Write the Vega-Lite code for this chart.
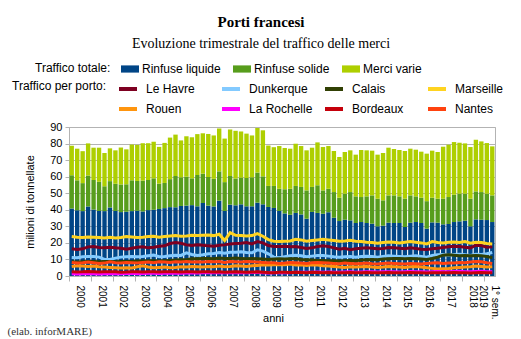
{
"$schema": "https://vega.github.io/schema/vega-lite/v6.json",
"width": 426, "height": 149,
"autosize": {"type": "none"},
"padding": {"left": 69, "top": 127, "right": 26, "bottom": 63},
"background": "white",
"title": {"text": "Porti francesi", "subtitle": "Evoluzione trimestrale del traffico delle merci", "font": "Liberation Serif", "fontSize": 15, "fontWeight": "bold", "subtitleFont": "Liberation Serif", "subtitleFontSize": 14, "subtitlePadding": 7, "anchor": "middle", "frame": "group", "dx": -21, "offset": 9, "color": "#000", "subtitleColor": "#000"},
"datasets": {
"ord": [{"tipo": "Rinfuse liquide", "k": 1}, {"tipo": "Rinfuse solide", "k": 2}, {"tipo": "Merci varie", "k": 3}],
"q": [
{"t":"2000-T1","Rinfuse liquide":40.7,"Rinfuse solide":20.1,"Merci varie":17.9,"Le Havre":16.4,"Dunkerque":11.2,"Calais":8.6,"Marseille":23.8,"Rouen":5.8,"La Rochelle":1.3,"Bordeaux":2.6,"Nantes":8.2},
{"t":"2000-T2","Rinfuse liquide":39.7,"Rinfuse solide":18.1,"Merci varie":19.1,"Le Havre":16.0,"Dunkerque":11.0,"Calais":8.4,"Marseille":23.4,"Rouen":6.2,"La Rochelle":1.2,"Bordeaux":2.4,"Nantes":7.8},
{"t":"2000-T3","Rinfuse liquide":39.2,"Rinfuse solide":16.9,"Merci varie":19.3,"Le Havre":16.4,"Dunkerque":11.6,"Calais":8.6,"Marseille":23.2,"Rouen":6.0,"La Rochelle":1.4,"Bordeaux":2.5,"Nantes":8.0},
{"t":"2000-T4","Rinfuse liquide":42.0,"Rinfuse solide":18.7,"Merci varie":19.4,"Le Havre":17.6,"Dunkerque":11.8,"Calais":8.8,"Marseille":23.6,"Rouen":5.8,"La Rochelle":1.5,"Bordeaux":2.7,"Nantes":8.4},
{"t":"2001-T1","Rinfuse liquide":40.1,"Rinfuse solide":17.9,"Merci varie":19.5,"Le Havre":17.8,"Dunkerque":11.8,"Calais":8.8,"Marseille":23.4,"Rouen":6.0,"La Rochelle":1.3,"Bordeaux":2.6,"Nantes":8.0},
{"t":"2001-T2","Rinfuse liquide":39.3,"Rinfuse solide":17.6,"Merci varie":20.6,"Le Havre":17.2,"Dunkerque":11.4,"Calais":8.6,"Marseille":23.2,"Rouen":5.6,"La Rochelle":1.2,"Bordeaux":2.4,"Nantes":7.6},
{"t":"2001-T3","Rinfuse liquide":39.2,"Rinfuse solide":15.0,"Merci varie":20.1,"Le Havre":17.0,"Dunkerque":10.0,"Calais":8.8,"Marseille":23.0,"Rouen":5.4,"La Rochelle":1.4,"Bordeaux":2.5,"Nantes":7.8},
{"t":"2001-T4","Rinfuse liquide":41.4,"Rinfuse solide":15.9,"Merci varie":19.8,"Le Havre":17.4,"Dunkerque":10.0,"Calais":8.8,"Marseille":23.4,"Rouen":5.2,"La Rochelle":1.5,"Bordeaux":2.6,"Nantes":8.6},
{"t":"2002-T1","Rinfuse liquide":39.3,"Rinfuse solide":16.4,"Merci varie":20.2,"Le Havre":17.0,"Dunkerque":10.8,"Calais":8.6,"Marseille":23.0,"Rouen":5.0,"La Rochelle":1.4,"Bordeaux":2.5,"Nantes":8.0},
{"t":"2002-T2","Rinfuse liquide":38.6,"Rinfuse solide":16.7,"Merci varie":22.3,"Le Havre":16.8,"Dunkerque":11.4,"Calais":8.8,"Marseille":23.2,"Rouen":4.8,"La Rochelle":1.3,"Bordeaux":2.3,"Nantes":7.8},
{"t":"2002-T3","Rinfuse liquide":38.8,"Rinfuse solide":16.6,"Merci varie":21.1,"Le Havre":16.2,"Dunkerque":11.6,"Calais":8.8,"Marseille":23.8,"Rouen":5.0,"La Rochelle":1.5,"Bordeaux":2.4,"Nantes":8.2},
{"t":"2002-T4","Rinfuse liquide":39.2,"Rinfuse solide":18.6,"Merci varie":21.6,"Le Havre":16.8,"Dunkerque":11.8,"Calais":8.8,"Marseille":23.6,"Rouen":4.8,"La Rochelle":1.6,"Bordeaux":2.6,"Nantes":8.0},
{"t":"2003-T1","Rinfuse liquide":39.4,"Rinfuse solide":18.0,"Merci varie":21.8,"Le Havre":17.4,"Dunkerque":11.6,"Calais":9.0,"Marseille":23.2,"Rouen":5.6,"La Rochelle":1.4,"Bordeaux":2.5,"Nantes":7.8},
{"t":"2003-T2","Rinfuse liquide":39.0,"Rinfuse solide":18.6,"Merci varie":22.6,"Le Havre":17.6,"Dunkerque":11.8,"Calais":9.0,"Marseille":23.4,"Rouen":6.2,"La Rochelle":1.5,"Bordeaux":2.4,"Nantes":8.2},
{"t":"2003-T3","Rinfuse liquide":39.8,"Rinfuse solide":18.2,"Merci varie":22.2,"Le Havre":17.0,"Dunkerque":12.2,"Calais":9.2,"Marseille":23.8,"Rouen":5.4,"La Rochelle":1.6,"Bordeaux":2.5,"Nantes":8.4},
{"t":"2003-T4","Rinfuse liquide":40.0,"Rinfuse solide":19.0,"Merci varie":22.1,"Le Havre":17.4,"Dunkerque":12.6,"Calais":9.2,"Marseille":24.0,"Rouen":5.0,"La Rochelle":1.7,"Bordeaux":2.6,"Nantes":8.0},
{"t":"2004-T1","Rinfuse liquide":40.5,"Rinfuse solide":15.3,"Merci varie":22.2,"Le Havre":18.0,"Dunkerque":11.6,"Calais":9.0,"Marseille":23.4,"Rouen":5.2,"La Rochelle":1.5,"Bordeaux":2.4,"Nantes":8.6},
{"t":"2004-T2","Rinfuse liquide":41.0,"Rinfuse solide":15.2,"Merci varie":24.2,"Le Havre":18.2,"Dunkerque":11.8,"Calais":9.2,"Marseille":23.8,"Rouen":5.4,"La Rochelle":1.6,"Bordeaux":2.5,"Nantes":8.4},
{"t":"2004-T3","Rinfuse liquide":41.6,"Rinfuse solide":16.9,"Merci varie":25.1,"Le Havre":19.6,"Dunkerque":12.2,"Calais":9.4,"Marseille":24.2,"Rouen":5.0,"La Rochelle":1.7,"Bordeaux":2.6,"Nantes":8.2},
{"t":"2004-T4","Rinfuse liquide":41.5,"Rinfuse solide":18.9,"Merci varie":25.0,"Le Havre":20.2,"Dunkerque":12.6,"Calais":9.6,"Marseille":24.4,"Rouen":5.2,"La Rochelle":1.8,"Bordeaux":2.5,"Nantes":8.6},
{"t":"2005-T1","Rinfuse liquide":42.3,"Rinfuse solide":17.3,"Merci varie":22.3,"Le Havre":19.8,"Dunkerque":12.4,"Calais":9.8,"Marseille":24.0,"Rouen":5.6,"La Rochelle":1.7,"Bordeaux":2.4,"Nantes":8.4},
{"t":"2005-T2","Rinfuse liquide":42.5,"Rinfuse solide":17.5,"Merci varie":24.4,"Le Havre":18.8,"Dunkerque":14.0,"Calais":9.8,"Marseille":24.2,"Rouen":5.4,"La Rochelle":1.8,"Bordeaux":2.6,"Nantes":8.8},
{"t":"2005-T3","Rinfuse liquide":42.8,"Rinfuse solide":16.2,"Merci varie":24.8,"Le Havre":18.4,"Dunkerque":13.0,"Calais":10.4,"Marseille":24.6,"Rouen":5.8,"La Rochelle":1.9,"Bordeaux":2.5,"Nantes":8.4},
{"t":"2005-T4","Rinfuse liquide":42.1,"Rinfuse solide":18.9,"Merci varie":24.7,"Le Havre":18.8,"Dunkerque":12.4,"Calais":10.4,"Marseille":24.4,"Rouen":5.6,"La Rochelle":1.8,"Bordeaux":2.4,"Nantes":8.6},
{"t":"2006-T1","Rinfuse liquide":44.1,"Rinfuse solide":17.7,"Merci varie":24.4,"Le Havre":18.6,"Dunkerque":12.8,"Calais":10.6,"Marseille":24.6,"Rouen":5.4,"La Rochelle":1.9,"Bordeaux":2.5,"Nantes":8.4},
{"t":"2006-T2","Rinfuse liquide":42.5,"Rinfuse solide":17.3,"Merci varie":26.0,"Le Havre":18.2,"Dunkerque":13.4,"Calais":10.6,"Marseille":24.8,"Rouen":5.8,"La Rochelle":2.0,"Bordeaux":2.6,"Nantes":8.8},
{"t":"2006-T3","Rinfuse liquide":42.0,"Rinfuse solide":16.7,"Merci varie":26.2,"Le Havre":18.0,"Dunkerque":13.6,"Calais":10.4,"Marseille":24.4,"Rouen":5.6,"La Rochelle":1.9,"Bordeaux":2.4,"Nantes":8.6},
{"t":"2006-T4","Rinfuse liquide":45.5,"Rinfuse solide":17.7,"Merci varie":25.9,"Le Havre":18.6,"Dunkerque":14.2,"Calais":10.8,"Marseille":25.2,"Rouen":6.0,"La Rochelle":2.0,"Bordeaux":2.5,"Nantes":8.8},
{"t":"2007-T1","Rinfuse liquide":39.3,"Rinfuse solide":17.4,"Merci varie":26.3,"Le Havre":18.8,"Dunkerque":13.8,"Calais":10.6,"Marseille":21.4,"Rouen":5.6,"La Rochelle":1.9,"Bordeaux":2.3,"Nantes":8.2},
{"t":"2007-T2","Rinfuse liquide":43.1,"Rinfuse solide":17.3,"Merci varie":28.1,"Le Havre":19.4,"Dunkerque":14.4,"Calais":10.6,"Marseille":26.2,"Rouen":5.8,"La Rochelle":2.0,"Bordeaux":2.4,"Nantes":8.8},
{"t":"2007-T3","Rinfuse liquide":42.7,"Rinfuse solide":16.2,"Merci varie":28.8,"Le Havre":19.6,"Dunkerque":14.4,"Calais":10.8,"Marseille":24.6,"Rouen":6.2,"La Rochelle":2.1,"Bordeaux":2.5,"Nantes":8.6},
{"t":"2007-T4","Rinfuse liquide":43.3,"Rinfuse solide":16.1,"Merci varie":27.9,"Le Havre":19.8,"Dunkerque":14.6,"Calais":10.6,"Marseille":24.4,"Rouen":6.0,"La Rochelle":2.0,"Bordeaux":2.4,"Nantes":8.4},
{"t":"2008-T1","Rinfuse liquide":42.1,"Rinfuse solide":17.1,"Merci varie":26.8,"Le Havre":20.2,"Dunkerque":14.2,"Calais":10.4,"Marseille":24.2,"Rouen":5.8,"La Rochelle":2.0,"Bordeaux":2.3,"Nantes":8.8},
{"t":"2008-T2","Rinfuse liquide":42.1,"Rinfuse solide":17.5,"Merci varie":25.3,"Le Havre":19.4,"Dunkerque":14.0,"Calais":10.6,"Marseille":24.4,"Rouen":6.2,"La Rochelle":2.1,"Bordeaux":2.4,"Nantes":8.6},
{"t":"2008-T3","Rinfuse liquide":44.3,"Rinfuse solide":18.2,"Merci varie":26.9,"Le Havre":20.8,"Dunkerque":15.8,"Calais":10.4,"Marseille":25.6,"Rouen":6.4,"La Rochelle":2.2,"Bordeaux":2.5,"Nantes":8.4},
{"t":"2008-T4","Rinfuse liquide":43.3,"Rinfuse solide":16.9,"Merci varie":27.8,"Le Havre":20.0,"Dunkerque":15.0,"Calais":10.2,"Marseille":24.0,"Rouen":6.8,"La Rochelle":2.0,"Bordeaux":2.3,"Nantes":8.2},
{"t":"2009-T1","Rinfuse liquide":41.7,"Rinfuse solide":12.7,"Merci varie":24.4,"Le Havre":18.4,"Dunkerque":13.4,"Calais":10.0,"Marseille":22.0,"Rouen":6.6,"La Rochelle":1.8,"Bordeaux":2.1,"Nantes":8.0},
{"t":"2009-T2","Rinfuse liquide":41.1,"Rinfuse solide":13.3,"Merci varie":23.4,"Le Havre":17.8,"Dunkerque":11.4,"Calais":10.2,"Marseille":21.0,"Rouen":6.8,"La Rochelle":1.9,"Bordeaux":2.0,"Nantes":8.0},
{"t":"2009-T3","Rinfuse liquide":39.3,"Rinfuse solide":13.4,"Merci varie":25.8,"Le Havre":17.8,"Dunkerque":11.0,"Calais":10.4,"Marseille":20.8,"Rouen":7.0,"La Rochelle":2.0,"Bordeaux":2.2,"Nantes":7.6},
{"t":"2009-T4","Rinfuse liquide":37.8,"Rinfuse solide":14.6,"Merci varie":24.9,"Le Havre":18.0,"Dunkerque":11.6,"Calais":10.2,"Marseille":21.0,"Rouen":6.8,"La Rochelle":2.1,"Bordeaux":2.3,"Nantes":7.8},
{"t":"2010-T1","Rinfuse liquide":37.0,"Rinfuse solide":15.7,"Merci varie":24.2,"Le Havre":17.6,"Dunkerque":12.2,"Calais":10.4,"Marseille":21.2,"Rouen":7.2,"La Rochelle":2.0,"Bordeaux":2.1,"Nantes":8.2},
{"t":"2010-T2","Rinfuse liquide":38.1,"Rinfuse solide":16.3,"Merci varie":25.5,"Le Havre":17.8,"Dunkerque":12.6,"Calais":10.4,"Marseille":22.2,"Rouen":6.6,"La Rochelle":2.2,"Bordeaux":2.2,"Nantes":8.0},
{"t":"2010-T3","Rinfuse liquide":37.2,"Rinfuse solide":16.6,"Merci varie":24.7,"Le Havre":17.2,"Dunkerque":12.2,"Calais":10.0,"Marseille":21.8,"Rouen":6.8,"La Rochelle":2.3,"Bordeaux":2.1,"Nantes":7.8},
{"t":"2010-T4","Rinfuse liquide":34.6,"Rinfuse solide":17.1,"Merci varie":24.2,"Le Havre":16.6,"Dunkerque":11.6,"Calais":9.8,"Marseille":21.0,"Rouen":6.4,"La Rochelle":2.2,"Bordeaux":2.0,"Nantes":7.6},
{"t":"2011-T1","Rinfuse liquide":38.7,"Rinfuse solide":15.1,"Merci varie":23.7,"Le Havre":17.0,"Dunkerque":12.0,"Calais":9.6,"Marseille":21.4,"Rouen":6.8,"La Rochelle":2.3,"Bordeaux":2.2,"Nantes":8.0},
{"t":"2011-T2","Rinfuse liquide":38.1,"Rinfuse solide":16.7,"Merci varie":25.9,"Le Havre":17.8,"Dunkerque":12.4,"Calais":9.4,"Marseille":21.8,"Rouen":6.6,"La Rochelle":2.4,"Bordeaux":2.1,"Nantes":8.2},
{"t":"2011-T3","Rinfuse liquide":37.6,"Rinfuse solide":14.1,"Merci varie":26.2,"Le Havre":18.2,"Dunkerque":12.4,"Calais":9.4,"Marseille":22.2,"Rouen":6.2,"La Rochelle":2.3,"Bordeaux":2.0,"Nantes":8.0},
{"t":"2011-T4","Rinfuse liquide":38.5,"Rinfuse solide":14.2,"Merci varie":25.8,"Le Havre":17.8,"Dunkerque":12.0,"Calais":9.2,"Marseille":21.8,"Rouen":6.0,"La Rochelle":2.4,"Bordeaux":2.1,"Nantes":7.8},
{"t":"2012-T1","Rinfuse liquide":35.2,"Rinfuse solide":15.5,"Merci varie":24.8,"Le Havre":17.0,"Dunkerque":11.6,"Calais":9.2,"Marseille":21.4,"Rouen":5.8,"La Rochelle":2.3,"Bordeaux":2.0,"Nantes":7.6},
{"t":"2012-T2","Rinfuse liquide":33.2,"Rinfuse solide":14.1,"Merci varie":24.6,"Le Havre":16.2,"Dunkerque":11.4,"Calais":9.0,"Marseille":21.0,"Rouen":5.4,"La Rochelle":2.2,"Bordeaux":1.9,"Nantes":7.4},
{"t":"2012-T3","Rinfuse liquide":34.0,"Rinfuse solide":15.7,"Merci varie":25.2,"Le Havre":16.8,"Dunkerque":11.6,"Calais":9.2,"Marseille":21.2,"Rouen":5.2,"La Rochelle":2.4,"Bordeaux":2.0,"Nantes":7.8},
{"t":"2012-T4","Rinfuse liquide":33.6,"Rinfuse solide":17.1,"Merci varie":25.2,"Le Havre":15.9,"Dunkerque":11.8,"Calais":9.4,"Marseille":21.6,"Rouen":5.6,"La Rochelle":2.5,"Bordeaux":2.1,"Nantes":7.6},
{"t":"2013-T1","Rinfuse liquide":32.0,"Rinfuse solide":16.1,"Merci varie":25.2,"Le Havre":16.4,"Dunkerque":11.4,"Calais":9.2,"Marseille":21.0,"Rouen":5.4,"La Rochelle":2.3,"Bordeaux":1.9,"Nantes":7.4},
{"t":"2013-T2","Rinfuse liquide":32.6,"Rinfuse solide":15.1,"Merci varie":28.4,"Le Havre":16.8,"Dunkerque":11.8,"Calais":9.6,"Marseille":20.8,"Rouen":5.6,"La Rochelle":2.4,"Bordeaux":2.0,"Nantes":7.6},
{"t":"2013-T3","Rinfuse liquide":32.0,"Rinfuse solide":16.1,"Merci varie":27.8,"Le Havre":17.0,"Dunkerque":12.0,"Calais":9.8,"Marseille":20.4,"Rouen":5.8,"La Rochelle":2.5,"Bordeaux":2.1,"Nantes":7.8},
{"t":"2013-T4","Rinfuse liquide":31.6,"Rinfuse solide":17.1,"Merci varie":27.0,"Le Havre":16.8,"Dunkerque":11.8,"Calais":10.0,"Marseille":20.2,"Rouen":5.4,"La Rochelle":2.6,"Bordeaux":2.0,"Nantes":7.4},
{"t":"2014-T1","Rinfuse liquide":30.0,"Rinfuse solide":16.7,"Merci varie":26.6,"Le Havre":16.4,"Dunkerque":11.4,"Calais":9.8,"Marseille":19.8,"Rouen":5.2,"La Rochelle":2.4,"Bordeaux":1.9,"Nantes":7.2},
{"t":"2014-T2","Rinfuse liquide":30.4,"Rinfuse solide":15.3,"Merci varie":28.6,"Le Havre":16.6,"Dunkerque":11.8,"Calais":10.2,"Marseille":20.2,"Rouen":5.4,"La Rochelle":2.5,"Bordeaux":2.0,"Nantes":7.6},
{"t":"2014-T3","Rinfuse liquide":32.2,"Rinfuse solide":16.5,"Merci varie":28.8,"Le Havre":17.2,"Dunkerque":12.2,"Calais":10.4,"Marseille":20.6,"Rouen":5.8,"La Rochelle":2.6,"Bordeaux":2.1,"Nantes":7.8},
{"t":"2014-T4","Rinfuse liquide":32.0,"Rinfuse solide":16.7,"Merci varie":28.0,"Le Havre":17.0,"Dunkerque":12.0,"Calais":10.6,"Marseille":20.4,"Rouen":5.6,"La Rochelle":2.5,"Bordeaux":2.0,"Nantes":7.6},
{"t":"2015-T1","Rinfuse liquide":32.0,"Rinfuse solide":16.1,"Merci varie":28.0,"Le Havre":16.8,"Dunkerque":11.8,"Calais":10.6,"Marseille":20.0,"Rouen":5.4,"La Rochelle":2.4,"Bordeaux":1.9,"Nantes":7.4},
{"t":"2015-T2","Rinfuse liquide":29.6,"Rinfuse solide":17.1,"Merci varie":28.8,"Le Havre":16.4,"Dunkerque":11.6,"Calais":10.4,"Marseille":20.4,"Rouen":5.2,"La Rochelle":2.6,"Bordeaux":2.0,"Nantes":7.2},
{"t":"2015-T3","Rinfuse liquide":32.2,"Rinfuse solide":16.5,"Merci varie":28.2,"Le Havre":17.0,"Dunkerque":12.0,"Calais":10.6,"Marseille":20.8,"Rouen":5.6,"La Rochelle":2.7,"Bordeaux":2.1,"Nantes":7.6},
{"t":"2015-T4","Rinfuse liquide":32.6,"Rinfuse solide":15.5,"Merci varie":28.2,"Le Havre":16.6,"Dunkerque":12.2,"Calais":10.4,"Marseille":20.4,"Rouen":5.8,"La Rochelle":2.5,"Bordeaux":1.9,"Nantes":7.4},
{"t":"2016-T1","Rinfuse liquide":32.0,"Rinfuse solide":15.3,"Merci varie":27.8,"Le Havre":16.2,"Dunkerque":11.8,"Calais":10.2,"Marseille":20.0,"Rouen":5.4,"La Rochelle":2.6,"Bordeaux":2.0,"Nantes":7.2},
{"t":"2016-T2","Rinfuse liquide":28.6,"Rinfuse solide":16.6,"Merci varie":28.7,"Le Havre":16.0,"Dunkerque":11.4,"Calais":10.0,"Marseille":19.4,"Rouen":5.0,"La Rochelle":2.4,"Bordeaux":1.8,"Nantes":7.6},
{"t":"2016-T3","Rinfuse liquide":32.4,"Rinfuse solide":14.9,"Merci varie":28.4,"Le Havre":16.4,"Dunkerque":12.4,"Calais":10.6,"Marseille":20.8,"Rouen":4.6,"La Rochelle":2.6,"Bordeaux":1.9,"Nantes":7.8},
{"t":"2016-T4","Rinfuse liquide":32.2,"Rinfuse solide":14.5,"Merci varie":28.2,"Le Havre":16.8,"Dunkerque":12.8,"Calais":11.4,"Marseille":20.2,"Rouen":4.2,"La Rochelle":2.7,"Bordeaux":2.0,"Nantes":8.0},
{"t":"2017-T1","Rinfuse liquide":31.2,"Rinfuse solide":15.5,"Merci varie":31.4,"Le Havre":17.2,"Dunkerque":13.0,"Calais":12.6,"Marseille":20.0,"Rouen":4.4,"La Rochelle":2.6,"Bordeaux":1.9,"Nantes":7.6},
{"t":"2017-T2","Rinfuse liquide":31.4,"Rinfuse solide":16.3,"Merci varie":31.6,"Le Havre":17.6,"Dunkerque":12.6,"Calais":12.8,"Marseille":20.4,"Rouen":4.6,"La Rochelle":2.5,"Bordeaux":2.0,"Nantes":7.8},
{"t":"2017-T3","Rinfuse liquide":32.6,"Rinfuse solide":16.5,"Merci varie":31.8,"Le Havre":18.0,"Dunkerque":13.0,"Calais":12.6,"Marseille":20.6,"Rouen":5.0,"La Rochelle":2.7,"Bordeaux":2.1,"Nantes":7.8},
{"t":"2017-T4","Rinfuse liquide":33.0,"Rinfuse solide":16.7,"Merci varie":30.8,"Le Havre":17.8,"Dunkerque":13.2,"Calais":12.2,"Marseille":20.2,"Rouen":5.2,"La Rochelle":2.8,"Bordeaux":2.0,"Nantes":8.2},
{"t":"2018-T1","Rinfuse liquide":33.4,"Rinfuse solide":16.3,"Merci varie":30.4,"Le Havre":17.4,"Dunkerque":12.8,"Calais":12.4,"Marseille":20.8,"Rouen":5.4,"La Rochelle":2.6,"Bordeaux":1.9,"Nantes":8.0},
{"t":"2018-T2","Rinfuse liquide":30.0,"Rinfuse solide":16.7,"Merci varie":31.2,"Le Havre":17.0,"Dunkerque":12.4,"Calais":12.2,"Marseille":19.8,"Rouen":5.6,"La Rochelle":2.5,"Bordeaux":1.8,"Nantes":8.4},
{"t":"2018-T3","Rinfuse liquide":34.2,"Rinfuse solide":16.9,"Merci varie":31.2,"Le Havre":18.6,"Dunkerque":13.2,"Calais":12.4,"Marseille":20.4,"Rouen":6.0,"La Rochelle":2.7,"Bordeaux":2.0,"Nantes":8.8},
{"t":"2018-T4","Rinfuse liquide":34.0,"Rinfuse solide":16.7,"Merci varie":30.6,"Le Havre":18.4,"Dunkerque":13.0,"Calais":12.2,"Marseille":20.2,"Rouen":5.8,"La Rochelle":2.8,"Bordeaux":2.1,"Nantes":8.6},
{"t":"2019-T1","Rinfuse liquide":33.8,"Rinfuse solide":15.9,"Merci varie":30.6,"Le Havre":17.4,"Dunkerque":13.4,"Calais":11.8,"Marseille":19.6,"Rouen":5.4,"La Rochelle":2.6,"Bordeaux":1.9,"Nantes":8.0},
{"t":"2019-T2","Rinfuse liquide":32.6,"Rinfuse solide":16.1,"Merci varie":29.6,"Le Havre":17.6,"Dunkerque":14.2,"Calais":11.0,"Marseille":19.4,"Rouen":5.6,"La Rochelle":2.5,"Bordeaux":2.0,"Nantes":7.6}
]},
"data": {"name": "q"},
"layer": [
{
"transform": [
{"fold": ["Rinfuse liquide", "Rinfuse solide", "Merci varie"], "as": ["tipo", "v"]},
{"lookup": "tipo", "from": {"data": {"name": "ord"}, "key": "tipo", "fields": ["k"]}}
],
"mark": {"type": "bar"},
"encoding": {
"x": {"field": "t", "type": "ordinal", "scale": {"paddingInner": 0.2, "paddingOuter": 0.1},
"axis": {"orient": "bottom", "values": ["2000-T1","2001-T1","2002-T1","2003-T1","2004-T1","2005-T1","2006-T1","2007-T1","2008-T1","2009-T1","2010-T1","2011-T1","2012-T1","2013-T1","2014-T1","2015-T1","2016-T1","2017-T1","2018-T1","2019-T1"],
"bandPosition": 0, "labelExpr": "datum.value == '2019-T1' ? ['1° sem.', '2019'] : slice(datum.value, 0, 4)",
"labelAngle": 90, "labelOffset": 8, "labelFontSize": 10, "labelPadding": 4, "labelOverlap": false,
"tickSize": 5, "tickColor": "#b3b3b3", "domainColor": "#b3b3b3", "grid": false,
"title": "anni", "titleFontSize": 11, "titleX": 204, "titleY": 42, "titleBaseline": "middle", "titleAlign": "center"}},
"y": {"field": "v", "type": "quantitative", "stack": "zero", "scale": {"domain": [0, 90], "nice": false},
"title": "milioni di tonnellate",
"axis": {"values": [0,10,20,30,40,50,60,70,80,90], "tickCount": 10, "labelOverlap": false, "grid": true, "gridColor": "#b3b3b3", "tickSize": 4, "tickColor": "#b3b3b3", "domainColor": "#b3b3b3", "labelFontSize": 11, "labelPadding": 3, "titleFontSize": 11, "titlePadding": 14}},
"fill": {"field": "tipo", "type": "nominal",
"scale": {"domain": ["Rinfuse liquide", "Rinfuse solide", "Merci varie"], "range": ["#004586", "#579d1c", "#aecf00"]},
"legend": {"orient": "none", "legendX": -34, "legendY": -67, "direction": "horizontal", "columns": 3, "title": "Traffico totale:", "titleOrient": "left", "titlePadding": 10, "labelOffset": 3, "columnPadding": 12, "symbolType": "M-1,-0.4H1V0.4H-1Z", "symbolSize": 324, "symbolStrokeWidth": 0, "padding": 0}},
"order": {"field": "k", "type": "quantitative"}
}
},
{
"transform": [
{"fold": ["Le Havre", "Dunkerque", "Calais", "Marseille", "Rouen", "La Rochelle", "Bordeaux", "Nantes"], "as": ["porto", "w"]}
],
"mark": {"type": "line", "strokeWidth": 3},
"encoding": {
"x": {"field": "t", "type": "ordinal",
"axis": {"orient": "bottom", "labels": false, "ticks": false, "domain": false, "grid": false,
"title": "(elab. inforMARE)", "titleX": -62, "titleY": 55, "titleAlign": "left", "titleBaseline": "middle", "titleFont": "Liberation Serif", "titleFontSize": 11, "titleFontWeight": "normal", "titleColor": "#333"}},
"y": {"field": "w", "type": "quantitative", "scale": {"domain": [0, 90], "nice": false}, "title": "milioni di tonnellate",
"axis": {"values": [0,10,20,30,40,50,60,70,80,90], "tickCount": 10, "labelOverlap": false, "grid": true, "gridColor": "#b3b3b3", "tickSize": 4, "tickColor": "#b3b3b3", "domainColor": "#b3b3b3", "labelFontSize": 11, "labelPadding": 3, "titleFontSize": 11, "titlePadding": 14}},
"stroke": {"field": "porto", "type": "nominal",
"scale": {"domain": ["Le Havre", "Dunkerque", "Calais", "Marseille", "Rouen", "La Rochelle", "Bordeaux", "Nantes"], "range": ["#7e0021", "#83caff", "#314004", "#ffd320", "#ff950e", "#ff00ff", "#c5000b", "#ff420e"]},
"legend": {"orient": "none", "legendX": -57, "legendY": -49, "direction": "horizontal", "columns": 4, "title": "Traffico per porto:", "titleOrient": "left", "titleAnchor": "start", "titleBaseline": "line-top", "titleLineHeight": 18, "titlePadding": 10, "labelOffset": 7, "columnPadding": 4, "rowPadding": 1, "gridAlign": "all", "symbolType": "stroke", "symbolSize": 324, "symbolStrokeWidth": 4, "padding": 0}}
}
}
],
"resolve": {"axis": {"x": "independent"}},
"config": {
"font": "Liberation Sans",
"view": {"stroke": "#b3b3b3"},
"axis": {"labelColor": "#000", "titleColor": "#000", "titleFontWeight": "normal"},
"legend": {"labelFontSize": 12, "titleFontSize": 12, "titleFontWeight": "normal", "labelColor": "#000", "titleColor": "#000"}
}
}
